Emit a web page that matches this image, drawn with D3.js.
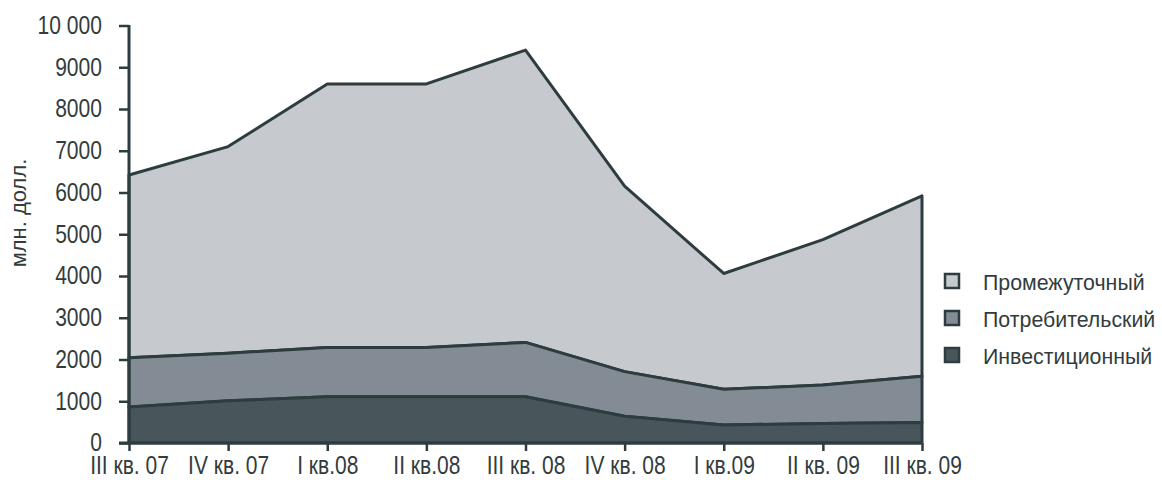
<!DOCTYPE html>
<html><head><meta charset="utf-8">
<script src="https://cdn.jsdelivr.net/npm/d3@7"></script>
<style>body{margin:0;background:#fff}svg{display:block}</style>
</head><body>
<svg id="c" width="1162" height="480"></svg>
<script>
const categories = ["III кв. 07","IV кв. 07","I кв.08","II кв.08","III кв. 08","IV кв. 08","I кв.09","II кв. 09","III кв. 09"];
const investment = [860,1010,1110,1110,1110,640,430,470,490];
const consumer = [1180,1140,1180,1180,1300,1070,855,920,1110];
const intermediate = [4380,4950,6310,6310,7000,4440,2775,3480,4320];
const seriesNames = ["Инвестиционный","Потребительский","Промежуточный"];
const yTicks = [0,1000,2000,3000,4000,5000,6000,7000,8000,9000,10000];
const yTitle = "млн. долл.";

const colors = ["#48565b","#838c94","#c6c9ce"];
const ink = "#2d3d3f";
const textCol = "#333c3d";
const font = "'Liberation Sans','Arial',sans-serif";

function condense(sel, k){
  sel.each(function(){
    const w = this.getComputedTextLength();
    d3.select(this).attr("textLength", w*k).attr("lengthAdjust","spacingAndGlyphs");
  });
}

const svg = d3.select("#c");
const x = d3.scalePoint().domain(categories).range([129,922]);
const y = d3.scaleLinear().domain([0,10000]).range([443,25.5]);

const rows = categories.map((c,i)=>({cat:c,inv:investment[i],con:consumer[i],int:intermediate[i]}));
const stack = d3.stack().keys(["inv","con","int"]);
const layers = stack(rows);

const area = d3.area().x(d=>x(d.data.cat)).y0(d=>y(d[0])).y1(d=>y(d[1]));
svg.append("g").selectAll("path").data(layers.slice().reverse()).join("path")
  .attr("d",area)
  .attr("fill",d=>colors[d.index])
  .attr("stroke",ink).attr("stroke-width",3).attr("stroke-linejoin","round");

// Y axis
const yAxis = svg.append("g").attr("transform","translate(129,0)")
  .call(d3.axisLeft(y).tickValues(yTicks).tickSize(10).tickPadding(17)
    .tickFormat(d=>d===10000?"10 000":String(d)));
yAxis.select(".domain").attr("stroke",ink).attr("stroke-width",3).attr("d","M0,25V443");
yAxis.selectAll(".tick line").attr("stroke",ink).attr("stroke-width",2.5);
yAxis.selectAll(".tick text").attr("fill",textCol).attr("dy","0.3em")
  .style("font-family",font).style("font-size","26px")
  .call(condense, 0.81);

// X axis
const xAxis = svg.append("g").attr("transform","translate(0,443)")
  .call(d3.axisBottom(x).tickSize(8).tickPadding(5));
xAxis.select(".domain").attr("stroke",ink).attr("stroke-width",3).attr("d","M119,0H922");
xAxis.selectAll(".tick line").attr("stroke",ink).attr("stroke-width",2.5);
xAxis.selectAll(".tick text").attr("fill",textCol)
  .style("font-family",font).style("font-size","25px")
  .call(condense, 0.84);

// Y title
svg.append("text").attr("transform","translate(26,213) rotate(-90)")
  .attr("text-anchor","middle").attr("fill",textCol)
  .style("font-family",font).style("font-size","22px").text(yTitle);

// Legend
const legend = svg.append("g");
const order = [2,1,0];
order.forEach((si,k)=>{
  const gy = 274 + k*37;
  legend.append("rect").attr("x",945).attr("y",gy).attr("width",14).attr("height",14)
    .attr("fill",colors[si]).attr("stroke",ink).attr("stroke-width",2.5);
  legend.append("text").attr("x",983).attr("y",gy+16).attr("fill",textCol)
    .style("font-family",font).style("font-size","22px").text(seriesNames[si])
    .call(condense, 0.97);
});
</script>
</body></html>
